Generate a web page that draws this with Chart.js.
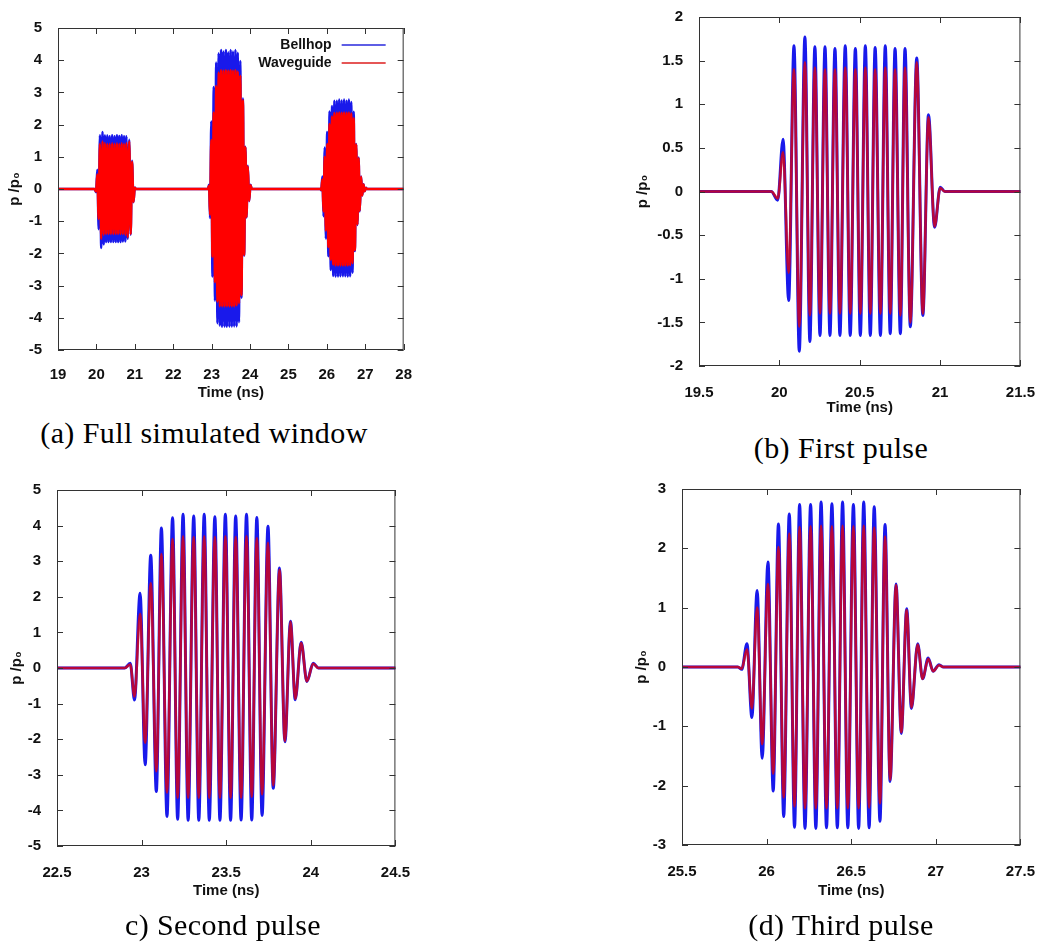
<!DOCTYPE html>
<html>
<head>
<meta charset="utf-8">
<script src="https://cdn.jsdelivr.net/npm/chart.js@4/dist/chart.umd.min.js"></script>
<style>
  body { margin: 0; background: #fff; }
  #page { position: relative; width: 1045px; height: 947px; overflow: hidden; }
  canvas { position: absolute; }
  .cap { position: absolute; width: 420px; text-align: center; font-family: "Liberation Serif", "Times New Roman", serif;
         font-size: 30px; line-height: 30px; letter-spacing: 0.4px; color: #000; white-space: nowrap; }
</style>
</head>
<body>
<div id="page">
  <canvas id="ca"></canvas>
  <canvas id="cb"></canvas>
  <canvas id="cc"></canvas>
  <canvas id="cd"></canvas>
  <div class="cap" style="left:-6px;top:418px">(a) Full simulated window</div>
  <div class="cap" style="left:631px;top:433px">(b) First pulse</div>
  <div class="cap" style="left:13px;top:910px">c) Second pulse</div>
  <div class="cap" style="left:631px;top:910px">(d) Third pulse</div>
</div>
<script>
// extrema of each pulse (time in ns, p/p0)
const pulse1Time = [19.95, 19.99, 20.023, 20.058, 20.091, 20.124, 20.159, 20.19, 20.221, 20.253, 20.284, 20.315, 20.346, 20.377,
  20.41, 20.441, 20.473, 20.504, 20.535, 20.566, 20.596, 20.629, 20.659, 20.69, 20.72, 20.753, 20.782, 20.815, 20.855,
  20.893, 20.928, 20.966, 21.001, 21.03];
const pulse1Bellhop = [0, -0.1, 0.6, -1.25, 1.67, -1.83, 1.77, -1.72, 1.66, -1.65, 1.66, -1.65, 1.64, -1.65,
  1.67, -1.65, 1.64, -1.65, 1.67, -1.65, 1.65, -1.65, 1.67, -1.63, 1.64, -1.63, 1.64, -1.55, 1.53,
  -1.42, 0.88, -0.41, 0.05, 0];
const pulse1Waveguide = [0, -0.08, 0.45, -0.93, 1.4, -1.55, 1.48, -1.42, 1.42, -1.4, 1.4, -1.4, 1.4, -1.4,
  1.42, -1.4, 1.4, -1.4, 1.42, -1.4, 1.4, -1.4, 1.42, -1.4, 1.4, -1.42, 1.42, -1.5, 1.48,
  -1.4, 0.85, -0.4, 0.04, 0];

const pulse2Time = [22.9, 22.933, 22.958, 22.991, 23.021, 23.054, 23.087, 23.117, 23.15, 23.183, 23.213, 23.245, 23.275,
  23.308, 23.338, 23.37, 23.4, 23.433, 23.463, 23.495, 23.526, 23.556, 23.588, 23.62, 23.651, 23.681, 23.712, 23.747,
  23.778, 23.815, 23.847, 23.88, 23.908, 23.943, 23.977, 24.014, 24.045];
const pulse2Bellhop = [0, 0.13, -0.9, 2.1, -2.72, 3.17, -3.47, 3.93, -4.17, 4.22, -4.25, 4.32, -4.28,
  4.27, -4.28, 4.32, -4.28, 4.25, -4.28, 4.32, -4.28, 4.27, -4.27, 4.32, -4.27, 4.23, -4.14, 3.98,
  -3.38, 2.81, -2.07, 1.31, -0.89, 0.72, -0.38, 0.13, 0];
const pulse2Waveguide = [0, 0.1, -0.8, 1.52, -2.1, 2.38, -2.9, 3.2, -3.5, 3.62, -3.65, 3.7, -3.65,
  3.68, -3.65, 3.7, -3.65, 3.68, -3.65, 3.7, -3.65, 3.68, -3.65, 3.7, -3.62, 3.65, -3.55, 3.52,
  -3.3, 2.76, -2.05, 1.3, -0.87, 0.7, -0.37, 0.12, 0];

const pulse3Time = [25.83, 25.853, 25.884, 25.913, 25.944, 25.974, 26.008, 26.039, 26.07, 26.101, 26.134, 26.165, 26.195,
  26.227, 26.26, 26.291, 26.322, 26.354, 26.386, 26.418, 26.449, 26.48, 26.513, 26.544, 26.574, 26.606, 26.636, 26.67,
  26.7, 26.73, 26.765, 26.796, 26.828, 26.856, 26.893, 26.922, 26.955, 26.984, 27.019, 27.045];
const pulse3Bellhop = [0, -0.04, 0.39, -0.85, 1.29, -1.54, 1.77, -2.09, 2.41, -2.52, 2.58, -2.7, 2.74,
  -2.72, 2.74, -2.72, 2.78, -2.71, 2.75, -2.71, 2.78, -2.71, 2.74, -2.72, 2.78, -2.71, 2.7, -2.6,
  2.4, -1.93, 1.4, -1.12, 0.98, -0.7, 0.39, -0.2, 0.15, -0.07, 0.04, 0];
const pulse3Waveguide = [0, -0.03, 0.3, -0.7, 1.0, -1.3, 1.4, -1.8, 2.02, -2.2, 2.25, -2.35, 2.36,
  -2.38, 2.37, -2.38, 2.38, -2.38, 2.37, -2.38, 2.38, -2.38, 2.37, -2.38, 2.38, -2.37, 2.35, -2.3,
  2.2, -1.9, 1.38, -1.1, 0.96, -0.68, 0.38, -0.2, 0.14, -0.07, 0.03, 0];

const windowStart = 19;
const windowEnd = 28;

const xTicksA = [19, 20, 21, 22, 23, 24, 25, 26, 27, 28];
const yTicksA = [-5, -4, -3, -2, -1, 0, 1, 2, 3, 4, 5];
const xTicksB = [19.5, 20, 20.5, 21, 21.5];
const yTicksB = [-2, -1.5, -1, -0.5, 0, 0.5, 1, 1.5, 2];
const xTicksC = [22.5, 23, 23.5, 24, 24.5];
const yTicksC = [-5, -4, -3, -2, -1, 0, 1, 2, 3, 4, 5];
const xTicksD = [25.5, 26, 26.5, 27, 27.5];
const yTicksD = [-3, -2, -1, 0, 1, 2, 3];

const seriesNames = ["Bellhop", "Waveguide"];
const xTitle = "Time (ns)";
const yTitle = "p /p\u2080";

// whole simulated window = the three pulses joined by the flat zero line
const allTime = [windowStart, ...pulse1Time, ...pulse2Time, ...pulse3Time, windowEnd];
const allBellhop = [0, ...pulse1Bellhop, ...pulse2Bellhop, ...pulse3Bellhop, 0];
const allWaveguide = [0, ...pulse1Waveguide, ...pulse2Waveguide, ...pulse3Waveguide, 0];

const toXY = (ys) => allTime.map((t, i) => ({ x: t, y: ys[i] }));

const tickFont = { family: "'Liberation Sans', Arial, sans-serif", size: 15, weight: "bold" };
const halfLine = 9; // half of the 15px font's line height

// gnuplot style frame with inward ticks on all sides, plus optional legend inside the plot
const framePlugin = {
  id: "frame",
  afterDatasetsDraw(chart, args, opts) {
    const { ctx, chartArea: a } = chart;
    const x = chart.scales.x, y = chart.scales.y;
    ctx.save();
    ctx.strokeStyle = "#333";
    ctx.lineWidth = 1;
    ctx.strokeRect(a.left + 0.5, a.top + 0.5, a.right - a.left - 1, a.bottom - a.top - 1);
    ctx.beginPath();
    x.ticks.forEach((t) => {
      const px = Math.round(x.getPixelForValue(t.value)) + 0.5;
      ctx.moveTo(px, a.bottom); ctx.lineTo(px, a.bottom - 6);
      ctx.moveTo(px, a.top); ctx.lineTo(px, a.top + 6);
    });
    y.ticks.forEach((t) => {
      const py = Math.round(y.getPixelForValue(t.value)) + 0.5;
      ctx.moveTo(a.left, py); ctx.lineTo(a.left + 6, py);
      ctx.moveTo(a.right, py); ctx.lineTo(a.right - 6, py);
    });
    ctx.stroke();

    if (opts.legend) {
      ctx.font = "bold 14px 'Liberation Sans', Arial, sans-serif";
      ctx.textAlign = "right";
      ctx.textBaseline = "middle";
      chart.data.datasets.forEach((ds, i) => {
        const ly = a.top + 17 + i * 18;
        ctx.fillStyle = "#111";
        ctx.fillText(ds.label, a.right - 72, ly);
        ctx.strokeStyle = ds.legendColor;
        ctx.lineWidth = 1.5;
        ctx.beginPath();
        ctx.moveTo(a.right - 62, ly);
        ctx.lineTo(a.right - 18, ly);
        ctx.stroke();
      });
    }
    ctx.restore();
  }
};

function makePanel(id, box, plot, xr, yr, xTicks, yTicks, xTitleY, yTitleX, xPad, dense, legend) {
  const cv = document.getElementById(id);
  cv.width = box.w; cv.height = box.h;
  cv.style.left = box.left + "px"; cv.style.top = box.top + "px";

  new Chart(cv.getContext("2d"), {
    type: "line",
    data: {
      datasets: [
        {
          label: seriesNames[0],
          data: toXY(allBellhop),
          borderColor: "rgb(25,25,235)",
          legendColor: "rgb(40,40,220)",
          borderWidth: dense ? 2.4 : 3,
          pointRadius: 0,
          cubicInterpolationMode: "monotone",
          order: 2,
        },
        {
          label: seriesNames[1],
          data: toXY(allWaveguide),
          borderColor: dense ? "rgb(255,0,0)" : "rgba(235,0,0,0.75)",
          legendColor: "rgb(220,30,30)",
          borderWidth: dense ? 2.4 : 2.6,
          pointRadius: 0,
          cubicInterpolationMode: "monotone",
          order: 1,
        },
      ],
    },
    options: {
      responsive: false,
      animation: false,
      events: [],
      layout: {
        padding: { left: 0, top: plot.t - box.top, right: box.left + box.w - plot.r, bottom: 0 },
      },
      plugins: {
        legend: { display: false },
        tooltip: { enabled: false },
        frame: { legend: legend },
      },
      scales: {
        x: {
          type: "linear",
          min: xr[0], max: xr[1],
          grid: { display: false },
          border: { display: false },
          afterBuildTicks: (s) => { s.ticks = xTicks.map((v) => ({ value: v })); },
          afterFit: (s) => { s.height = box.top + box.h - plot.b; },
          ticks: { font: tickFont, color: "#111", padding: xPad, maxRotation: 0, autoSkip: false, callback: (v) => String(v) },
          title: { display: true, text: xTitle, font: tickFont, color: "#111",
                   padding: { top: 0, bottom: box.top + box.h - xTitleY - halfLine } },
        },
        y: {
          type: "linear",
          min: yr[0], max: yr[1],
          grid: { display: false },
          border: { display: false },
          afterBuildTicks: (s) => { s.ticks = yTicks.map((v) => ({ value: v })); },
          afterFit: (s) => { s.width = plot.l - box.left; },
          ticks: { font: tickFont, color: "#111", padding: 8, autoSkip: false, callback: (v) => String(v) },
          title: { display: true, text: yTitle, font: tickFont, color: "#111",
                   padding: { top: yTitleX - box.left - halfLine, bottom: 0 } },
        },
      },
    },
    plugins: [framePlugin],
  });
}

makePanel("ca", { left: 0, top: 0, w: 420, h: 412 }, { l: 58, t: 28, r: 405, b: 350 },
  [19, 28], [-5, 5], xTicksA, yTicksA, 393, 15, 8, true, true);
makePanel("cb", { left: 600, top: 0, w: 445, h: 425 }, { l: 699, t: 10, r: 1028, b: 366 },
  [19.5, 21.5], [-2, 2], xTicksB, yTicksB, 408, 643, 10, false, false);
makePanel("cc", { left: 0, top: 470, w: 420, h: 440 }, { l: 57, t: 490, r: 404, b: 846 },
  [22.5, 24.5], [-5, 5], xTicksC, yTicksC, 891, 17, 10, false, false);
makePanel("cd", { left: 600, top: 470, w: 445, h: 440 }, { l: 682, t: 489, r: 1027, b: 845 },
  [25.5, 27.5], [-3, 3], xTicksD, yTicksD, 891, 642, 10, false, false);
</script>
</body>
</html>
